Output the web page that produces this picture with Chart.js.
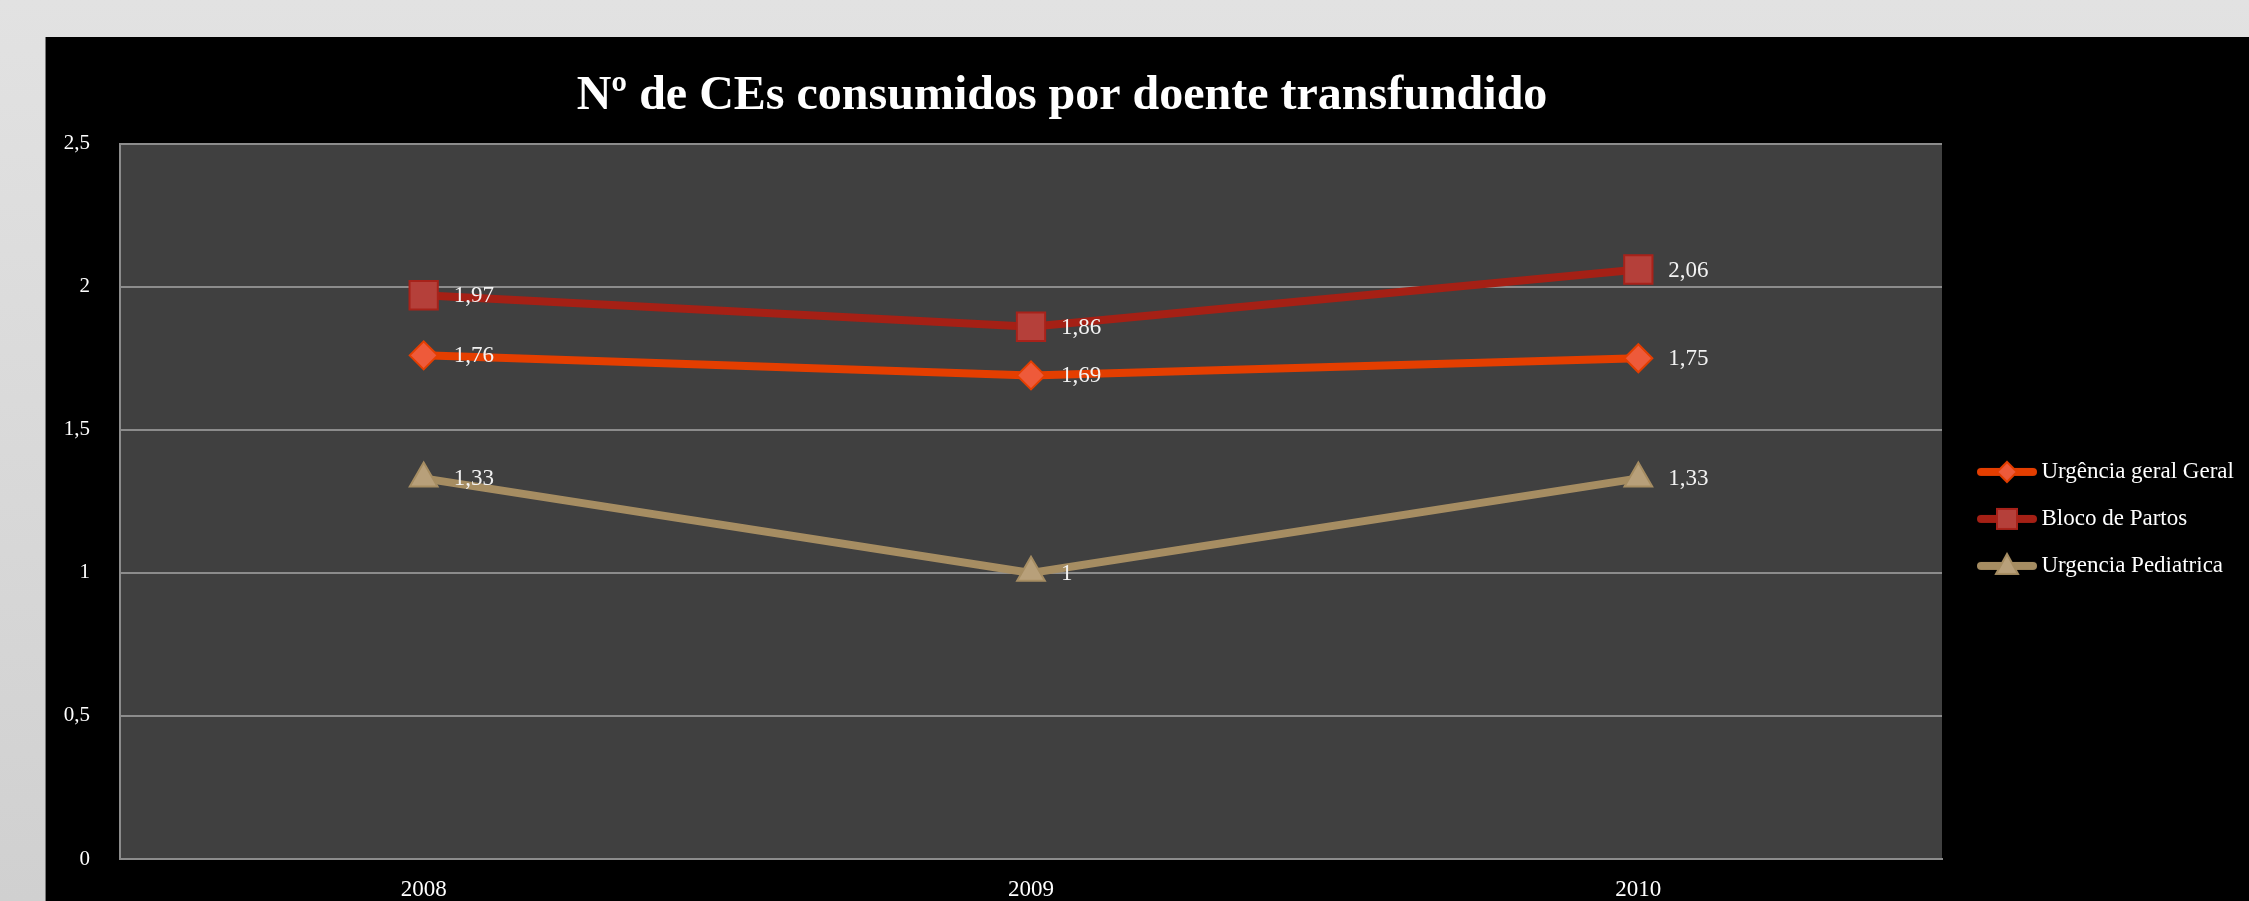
<!DOCTYPE html>
<html lang="pt">

<head>
    <meta charset="UTF-8">
    <title>Nº de CEs consumidos por doente transfundido</title>
    <script src="https://cdn.jsdelivr.net/npm/chart.js"></script>
    <style>
        body {
            margin: 0;
            width: 2249px;
            height: 901px;
            overflow: hidden;
            background: linear-gradient(#e2e2e2, #d0d0d0);
        }

        .quadro {
            position: absolute;
            left: 45px;
            top: 37px;
            width: 2204px;
            height: 864px;
            background: #000;
            border-left: 1px solid #777;
            box-sizing: border-box;
        }

        #grafico {
            display: block;
        }
    </style>
</head>

<body>
    <div class="quadro">
        <canvas id="grafico" width="2203" height="864"></canvas>
    </div>

    <script>
        // dados do gráfico
        const anos = ["2008", "2009", "2010"];
        const series = ["Urgência geral Geral", "Bloco de Partos", "Urgencia Pediatrica"];
        const urgenciaGeral = [1.76, 1.69, 1.75];
        const blocoPartos = [1.97, 1.86, 2.06];
        const urgenciaPediatrica = [1.33, 1, 1.33];
        const ticksY = [0, 0.5, 1, 1.5, 2, 2.5];

        const fonte = '"Liberation Serif", "DejaVu Serif", serif';
        const virgula = v => String(Math.round(v * 100) / 100).replace('.', ',');

        // ícone da legenda: linha + marcador
        function iconeLegenda(corLinha, forma, preenche, borda) {
            const c = document.createElement('canvas');
            c.width = 78;
            c.height = 30;
            const g = c.getContext('2d');
            g.strokeStyle = corLinha;
            g.lineWidth = 8;
            g.lineCap = 'round';
            g.beginPath();
            g.moveTo(22, 15);
            g.lineTo(74, 15);
            g.stroke();

            const cx = 48, cy = 15;
            g.fillStyle = preenche;
            g.strokeStyle = borda;
            g.lineWidth = 2;
            g.beginPath();
            if (forma == 'rectRot') {
                g.moveTo(cx, cy - 10); g.lineTo(cx + 10, cy); g.lineTo(cx, cy + 10); g.lineTo(cx - 10, cy);
            } else if (forma == 'rect') {
                g.rect(cx - 10, cy - 10, 20, 20);
            } else {
                g.moveTo(cx, cy - 12); g.lineTo(cx + 11, cy + 8); g.lineTo(cx - 11, cy + 8);
            }
            g.closePath();
            g.fill();
            g.stroke();
            return c;
        }

        const estilos = [
            { linha: '#E43E00', forma: 'rectRot', raio: 14, fill: '#EE5A3A', borda: '#E43E00' },
            { linha: '#A52015', forma: 'rect', raio: 20, fill: '#B5403A', borda: '#A8221A' },
            { linha: '#A68D62', forma: 'triangle', raio: 16, fill: '#B8A07A', borda: '#A68D62' }
        ];
        const icones = estilos.map(e => iconeLegenda(e.linha, e.forma, e.fill, e.borda));

        // largura da legenda, para o gráfico acabar onde começa a legenda
        const medir = document.createElement('canvas').getContext('2d');
        medir.font = '23px ' + fonte;
        const larguraTexto = Math.max(...series.map(s => medir.measureText(s).width));
        const larguraLegenda = 24 + 64 + 11.5 + larguraTexto + 10;
        const padDireita = Math.max(0, 2203 - 1896 - larguraLegenda);

        const fundoPlot = {
            id: 'fundoPlot',
            // o título no original fica um pouco à direita do centro do gráfico
            afterLayout(chart) {
                if (chart.titleBlock) chart.titleBlock.left += 62;
            },
            beforeDraw(chart) {
                const a = chart.chartArea;
                chart.ctx.save();
                chart.ctx.fillStyle = '#404040';
                chart.ctx.fillRect(a.left, a.top, a.right - a.left, a.bottom - a.top);
                chart.ctx.restore();
            }
        };

        // rótulos de valor à direita de cada ponto
        const rotulos = {
            id: 'rotulos',
            afterDatasetsDraw(chart) {
                const ctx = chart.ctx;
                ctx.save();
                ctx.font = '23px ' + fonte;
                ctx.fillStyle = '#f2f2f2';
                ctx.textAlign = 'left';
                ctx.textBaseline = 'middle';
                chart.data.datasets.forEach((ds, i) => {
                    chart.getDatasetMeta(i).data.forEach((p, j) => {
                        ctx.fillText(virgula(ds.data[j]), p.x + 30, p.y + 1);
                    });
                });
                ctx.restore();
            }
        };

        const valores = [urgenciaGeral, blocoPartos, urgenciaPediatrica];
        const dados = {
            labels: anos,
            datasets: valores.map((v, i) => ({
                label: series[i],
                data: v,
                borderColor: estilos[i].linha,
                backgroundColor: estilos[i].linha,
                borderWidth: 8,
                tension: 0,
                pointStyle: estilos[i].forma,
                pointRadius: estilos[i].raio,
                pointBackgroundColor: estilos[i].fill,
                pointBorderColor: estilos[i].borda,
                pointBorderWidth: 2
            }))
        };

        const config = {
            type: 'line',
            data: dados,
            options: {
                responsive: false,
                animation: false,
                layout: { autoPadding: false, padding: { left: 0, top: 0, bottom: 0, right: padDireita } },
                plugins: {
                    title: {
                        display: true,
                        text: 'Nº de CEs consumidos por doente transfundido',
                        color: '#ffffff',
                        fullSize: false,
                        font: { family: fonte, size: 48, weight: 'bold' },
                        padding: { top: 31, bottom: 18 }
                    },
                    legend: {
                        position: 'right',
                        fullSize: false,
                        title: { display: true, text: ' ', font: { size: 11 }, padding: 11 },
                        labels: {
                            color: '#ffffff',
                            font: { family: fonte, size: 23 },
                            usePointStyle: true,
                            pointStyleWidth: 64,
                            padding: 24,
                            generateLabels(chart) {
                                const itens = Chart.defaults.plugins.legend.labels.generateLabels(chart);
                                itens.forEach(it => { it.pointStyle = icones[it.datasetIndex]; });
                                return itens;
                            }
                        }
                    },
                    tooltip: { enabled: false }
                },
                scales: {
                    x: {
                        offset: true,
                        afterFit(scale) { scale.height = 42; },
                        grid: { display: false, drawTicks: false },
                        border: { display: true, color: '#8c8c8c', width: 2 },
                        ticks: { color: '#ffffff', font: { family: fonte, size: 23 }, padding: 17 }
                    },
                    y: {
                        min: ticksY[0],
                        max: ticksY[ticksY.length - 1],
                        afterFit(scale) {
                            scale.width = 74;
                            scale.paddingTop = 0;
                            scale.paddingBottom = 0;
                        },
                        afterBuildTicks(scale) { scale.ticks = ticksY.map(v => ({ value: v })); },
                        grid: { color: '#8c8c8c', lineWidth: 2, drawTicks: false },
                        border: { display: true, color: '#8c8c8c', width: 2 },
                        ticks: {
                            color: '#ffffff',
                            font: { family: fonte, size: 21 },
                            padding: 30,
                            callback: v => virgula(v)
                        }
                    }
                }
            },
            plugins: [fundoPlot, rotulos]
        };

        let myChart = new Chart(document.getElementById('grafico'), config);
    </script>
</body>

</html>
